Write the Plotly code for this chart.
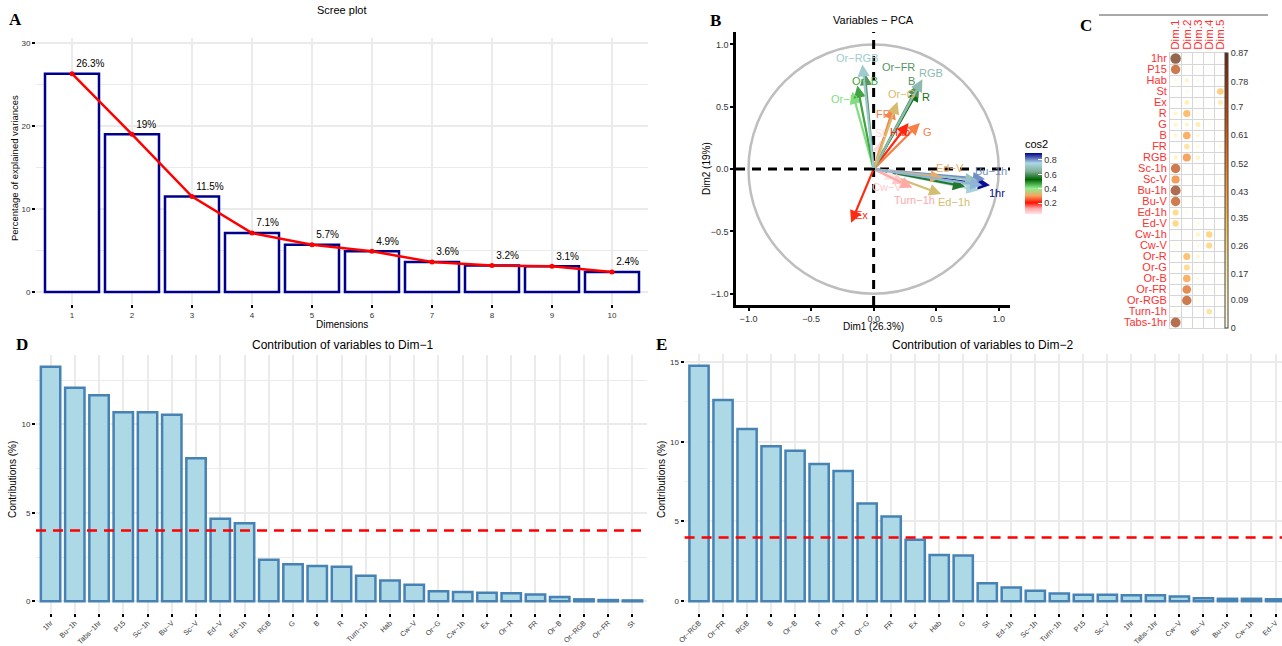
import plotly.graph_objects as go
from plotly.colors import sample_colorscale

W, H = 1282, 646
FONT = "Liberation Sans, Arial, sans-serif"
SERIF = "Liberation Serif, Times New Roman, serif"
MINUS = "\u2212"


def disp(s):
    return s.replace("-", MINUS)


def px(x):
    return x / W


def py(y):
    return 1 - y / H


def dom_x(a, b):
    return [max(0.0, a / W), min(1.0, b / W)]


def dom_y(top, bottom):
    return [1 - bottom / H, 1 - top / H]


# ---------------- data ----------------
# A: scree plot
dims = [1, 2, 3, 4, 5, 6, 7, 8, 9, 10]
eig_pct = [26.3, 19.0, 11.5, 7.1, 5.7, 4.9, 3.6, 3.2, 3.1, 2.4]

# B: variable coordinates on Dim1 / Dim2
pca_vars = ["1hr", "P15", "Hab", "St", "Ex", "R", "G", "B", "FR", "RGB", "Sc-1h", "Sc-V",
            "Bu-1h", "Bu-V", "Ed-1h", "Ed-V", "Cw-1h", "Cw-V", "Or-R", "Or-G", "Or-B",
            "Or-FR", "Or-RGB", "Turn-1h", "Tabs-1hr"]
coord_dim1 = [0.93, 0.84, 0.28, 0.06, -0.18, 0.36, 0.37, 0.36, 0.16, 0.39, 0.84, 0.73,
              0.89, 0.83, 0.54, 0.55, 0.19, 0.25, -0.17, 0.19, -0.13, -0.07, -0.09, 0.31, 0.87]
coord_dim2 = [-0.13, -0.14, 0.37, 0.23, -0.43, 0.64, 0.37, 0.68, 0.50, 0.72, -0.17, -0.14,
              -0.08, -0.09, -0.20, -0.07, -0.08, -0.12, 0.62, 0.54, 0.67, 0.77, 0.84, -0.15, -0.13]

# C: cos2 of variables on Dim.1 .. Dim.5
c_dims = ["Dim.1", "Dim.2", "Dim.3", "Dim.4", "Dim.5"]
c_rows = pca_vars
cos2_d1 = [0.87, 0.70, 0.08, 0.00, 0.03, 0.13, 0.14, 0.13, 0.03, 0.15, 0.70, 0.53, 0.79,
           0.69, 0.29, 0.31, 0.04, 0.06, 0.03, 0.04, 0.02, 0.00, 0.01, 0.10, 0.77]
cos2_d2 = [0.02, 0.02, 0.14, 0.05, 0.18, 0.41, 0.14, 0.46, 0.25, 0.51, 0.03, 0.02, 0.01,
           0.01, 0.04, 0.01, 0.00, 0.01, 0.39, 0.29, 0.45, 0.60, 0.70, 0.02, 0.02]
cos2_d3 = [0.03, 0.03, 0.06, 0.02, 0.01, 0.05, 0.20, 0.10, 0.10, 0.15, 0.01, 0.02, 0.02,
           0.04, 0.06, 0.07, 0.15, 0.08, 0.12, 0.04, 0.08, 0.05, 0.07, 0.01, 0.01]
cos2_d4 = [0.00, 0.00, 0.01, 0.01, 0.01, 0.01, 0.06, 0.01, 0.01, 0.01, 0.01, 0.00, 0.01,
           0.01, 0.01, 0.00, 0.32, 0.30, 0.04, 0.01, 0.02, 0.05, 0.01, 0.25, 0.01]
cos2_d5 = [0.00, 0.01, 0.05, 0.35, 0.20, 0.01, 0.01, 0.01, 0.08, 0.01, 0.01, 0.06, 0.03,
           0.01, 0.01, 0.01, 0.01, 0.01, 0.01, 0.01, 0.01, 0.00, 0.00, 0.01, 0.01]
c_ticks = [0, 0.09, 0.17, 0.26, 0.35, 0.43, 0.52, 0.61, 0.7, 0.78, 0.87]

# D: contributions to Dim-1
d_vars = ["1hr", "Bu-1h", "Tabs-1hr", "P15", "Sc-1h", "Bu-V", "Sc-V", "Ed-V", "Ed-1h", "RGB",
          "G", "B", "R", "Turn-1h", "Hab", "Cw-V", "Or-G", "Cw-1h", "Ex", "Or-R", "FR", "Or-B",
          "Or-RGB", "Or-FR", "St"]
d_vals = [13.26, 12.07, 11.65, 10.68, 10.68, 10.55, 8.08, 4.67, 4.41, 2.35, 2.09, 2.00, 1.96,
          1.45, 1.17, 0.93, 0.57, 0.53, 0.49, 0.45, 0.38, 0.24, 0.11, 0.07, 0.05]

# E: contributions to Dim-2
e_vars = ["Or-RGB", "Or-FR", "RGB", "B", "Or-B", "R", "Or-R", "Or-G", "FR", "Ex", "Hab", "G",
          "St", "Ed-1h", "Sc-1h", "Turn-1h", "P15", "Sc-V", "1hr", "Tabs-1hr", "Cw-V", "Bu-V",
          "Bu-1h", "Cw-1h", "Ed-V"]
e_vals = [14.76, 12.61, 10.80, 9.72, 9.43, 8.60, 8.17, 6.12, 5.31, 3.86, 2.90, 2.86, 1.13,
          0.86, 0.66, 0.49, 0.41, 0.41, 0.37, 0.37, 0.29, 0.18, 0.15, 0.15, 0.12]

expected_contrib = 100 / len(d_vars)

# label placement (layout) for the variable arrows that carry a visible label
b_label_pos = {
    "Or-RGB": (-0.13, 0.895), "Or-FR": (0.20, 0.82), "Or-B": (-0.07, 0.71),
    "Or-R": (-0.23, 0.56), "RGB": (0.46, 0.775), "B": (0.30, 0.71), "R": (0.42, 0.58),
    "Or-G": (0.22, 0.60), "FR": (0.08, 0.44), "St": (0.05, 0.29), "Hab": (0.21, 0.30),
    "G": (0.43, 0.30), "Ed-V": (0.61, 0.01), "Bu-1h": (0.94, -0.016),
    "1hr": (0.99, -0.195), "Cw-V": (0.11, -0.14), "Turn-1h": (0.33, -0.25),
    "Ed-1h": (0.64, -0.26), "Ex": (-0.10, -0.37),
}

# ---------------- styling ----------------
GRID = "#EBEBEB"
cos2_scale = [[0.0, "#FFE4E4"], [0.09, "#FFA8A8"], [0.184, "#FF1000"], [0.30, "#F4A460"],
              [0.42, "#90EE90"], [0.565, "#006400"], [0.70, "#7FAF97"], [0.835, "#ADD8E6"],
              [1.0, "#00008B"]]
CMIN, CMAX = 0.044, 0.89

fig = go.Figure()

# ---------------- Panel A ----------------
fig.add_trace(go.Bar(
    x=dims, y=eig_pct, width=0.9, xaxis="x", yaxis="y", showlegend=False,
    marker=dict(color="white", line=dict(color="#00008B", width=2.5)), hoverinfo="skip"))
fig.add_trace(go.Scatter(
    x=dims, y=eig_pct, mode="lines+markers+text", xaxis="x", yaxis="y", showlegend=False,
    line=dict(color="red", width=2.5), marker=dict(color="red", size=5),
    text=[f"{v:g}%" for v in eig_pct], textposition="top right",
    textfont=dict(family=FONT, size=10, color="black"), cliponaxis=False))

# ---------------- Panel B ----------------
cos2_b = [a * a + b * b for a, b in zip(coord_dim1, coord_dim2)]
b_colors = [sample_colorscale(cos2_scale, [min(1, max(0, (c - CMIN) / (CMAX - CMIN)))])[0]
            for c in cos2_b]
fig.add_trace(go.Scatter(
    x=coord_dim1, y=coord_dim2, mode="markers", xaxis="x2", yaxis="y2", showlegend=False,
    marker=dict(color=cos2_b, coloraxis="coloraxis", size=2, opacity=0), hoverinfo="skip"))

# ---------------- Panel C ----------------
c_matrix = [cos2_d1, cos2_d2, cos2_d3, cos2_d4, cos2_d5]
cx, cy, cv, cs = [], [], [], []
for j, col in enumerate(c_matrix):
    for i, v in enumerate(col):
        if v <= 0:
            continue
        cx.append(j + 1)
        cy.append(i + 1)
        cv.append(v)
        cs.append(max(1.8, 10.5 * (v / max(c_ticks)) ** 0.5))
fig.add_trace(go.Scatter(
    x=cx, y=cy, mode="markers", xaxis="x3", yaxis="y3", showlegend=False,
    marker=dict(color=cv, coloraxis="coloraxis2", size=cs, line=dict(width=0)),
    hoverinfo="skip"))

# ---------------- Panel D ----------------
fig.add_trace(go.Bar(
    x=[disp(v) for v in d_vars], y=d_vals, width=0.8, xaxis="x4", yaxis="y4", showlegend=False,
    marker=dict(color="#ADD8E6", line=dict(color="#4682B4", width=2.5)), hoverinfo="skip"))

# ---------------- Panel E ----------------
fig.add_trace(go.Bar(
    x=[disp(v) for v in e_vars], y=e_vals, width=0.8, xaxis="x5", yaxis="y5", showlegend=False,
    marker=dict(color="#ADD8E6", line=dict(color="#4682B4", width=2.5)), hoverinfo="skip"))

tickfont = dict(family=FONT, size=8, color="#333333")
cat_tickfont = dict(family=FONT, size=7.2, color="#333333")
ggtick = dict(ticks="outside", ticklen=3, tickwidth=2, tickcolor="black", automargin=False)

layout = dict(
    width=W, height=H, margin=dict(l=0, r=0, t=0, b=0, autoexpand=False), autosize=False,
    paper_bgcolor="white", plot_bgcolor="white", showlegend=False,
    font=dict(family=FONT, size=10, color="black"),
    # A
    xaxis=dict(domain=dom_x(36, 648), range=[0.4, 10.6], tickvals=dims, anchor="y",
               showgrid=True, gridcolor=GRID, gridwidth=2, zeroline=False, tickfont=tickfont,
               **ggtick),
    yaxis=dict(domain=dom_y(38, 304), range=[-1.45, 30.6], tickvals=[0, 10, 20, 30], anchor="x",
               showgrid=True, gridcolor=GRID, gridwidth=2, zeroline=False, tickfont=tickfont,
               minor=dict(tickvals=[5, 15, 25], showgrid=True, gridcolor=GRID, gridwidth=1),
               **ggtick),
    # B
    xaxis2=dict(domain=dom_x(736, 1010), range=[-1.1, 1.09], anchor="y2", automargin=False,
                tickvals=[-1, -0.5, 0, 0.5, 1],
                ticktext=[MINUS + "1.0", MINUS + "0.5", "0.0", "0.5", "1.0"],
                showgrid=False, zeroline=False, showline=True, linecolor="black", linewidth=2.5,
                ticks="outside", ticklen=3, tickwidth=1.5, tickcolor="black",
                tickfont=dict(family=FONT, size=9, color="#333333")),
    yaxis2=dict(domain=dom_y(32, 305), range=[-1.09, 1.1], anchor="x2", automargin=False,
                tickvals=[-1, -0.5, 0, 0.5, 1],
                ticktext=[MINUS + "1.0", MINUS + "0.5", "0.0", "0.5", "1.0"],
                showgrid=False, zeroline=False, showline=True, linecolor="black", linewidth=2.5,
                ticks="outside", ticklen=3, tickwidth=1.5, tickcolor="black",
                tickfont=dict(family=FONT, size=9, color="#333333")),
    # C
    xaxis3=dict(domain=dom_x(1170, 1226), range=[0.5, 5.5], anchor="y3", side="top",
                automargin=False,
                tickvals=[1, 2, 3, 4, 5], ticktext=c_dims, tickangle=-90, ticks="",
                tickfont=dict(family=FONT, size=11.5, color="#FF3030"),
                showgrid=False, zeroline=False, showline=True, mirror=True,
                linecolor="#D6D6D6", linewidth=1,
                minor=dict(tickvals=[1.5, 2.5, 3.5, 4.5], showgrid=True,
                           gridcolor="#D6D6D6", gridwidth=1)),
    yaxis3=dict(domain=dom_y(53, 328), range=[25.5, 0.5], anchor="x3", automargin=False,
                tickvals=list(range(1, len(c_rows) + 1)), ticktext=c_rows, ticks="",
                tickfont=dict(family=FONT, size=11, color="#FF3030"),
                showgrid=False, zeroline=False, showline=True, mirror=True,
                linecolor="#D6D6D6", linewidth=1,
                minor=dict(tickvals=[k + 0.5 for k in range(1, len(c_rows))], showgrid=True,
                           gridcolor="#D6D6D6", gridwidth=1)),
    # D
    xaxis4=dict(domain=dom_x(36, 647), range=[-0.6, 24.6], anchor="y4", type="category",
                tickangle=-45, showgrid=True, gridcolor=GRID, gridwidth=2, zeroline=False,
                tickfont=cat_tickfont, ticklabelstandoff=-1, **ggtick),
    yaxis4=dict(domain=dom_y(355, 613), range=[-0.66, 13.92], anchor="x4",
                tickvals=[0, 5, 10], showgrid=True, gridcolor=GRID, gridwidth=2, zeroline=False,
                tickfont=tickfont,
                minor=dict(tickvals=[2.5, 7.5, 12.5], showgrid=True, gridcolor=GRID, gridwidth=1),
                **ggtick),
    # E
    xaxis5=dict(domain=dom_x(684.6, 1282), range=[-0.6, 24.27], anchor="y5", type="category",
                tickangle=-45, showgrid=True, gridcolor=GRID, gridwidth=2, zeroline=False,
                tickfont=cat_tickfont, ticklabelstandoff=-1, **ggtick),
    yaxis5=dict(domain=dom_y(354, 613), range=[-0.74, 15.5], anchor="x5",
                tickvals=[0, 5, 10, 15], showgrid=True, gridcolor=GRID, gridwidth=2,
                zeroline=False, tickfont=tickfont,
                minor=dict(tickvals=[2.5, 7.5, 12.5], showgrid=True, gridcolor=GRID, gridwidth=1),
                **ggtick),
    coloraxis=dict(
        colorscale=cos2_scale, cmin=CMIN, cmax=CMAX,
        colorbar=dict(x=px(1025), xanchor="left", y=py(175.5), yanchor="middle",
                      lenmode="pixels", len=78, thicknessmode="pixels", thickness=17,
                      xpad=0, ypad=0, outlinewidth=0,
                      title=dict(text="cos2", side="top", font=dict(family=FONT, size=11)),
                      tickvals=[0.2, 0.4, 0.6, 0.8], ticks="inside", tickcolor="white",
                      ticklen=4, tickfont=dict(family=FONT, size=9, color="#333333"))),
    coloraxis2=dict(
        colorscale="YlOrBr", cmin=0, cmax=max(c_ticks),
        colorbar=dict(x=px(1225), xanchor="left", y=py(190.5), yanchor="middle",
                      lenmode="pixels", len=275, thicknessmode="pixels", thickness=3,
                      xpad=0, ypad=0, outlinewidth=1, outlinecolor="#444444",
                      tickvals=c_ticks, ticktext=[f"{t:g}" for t in c_ticks], ticks="",
                      tickfont=dict(family=FONT, size=9, color="#333333"))),
)
fig.update_layout(**layout)

shapes = []
# B: correlation circle and dashed axes
shapes.append(dict(type="circle", xref="x2", yref="y2", x0=-1, y0=-1, x1=1, y1=1,
                   line=dict(color="#BEBEBE", width=2.5), layer="below"))
shapes.append(dict(type="line", xref="x2", yref="y2 domain", x0=0, x1=0, y0=0, y1=1,
                   line=dict(color="black", width=3, dash="9px,7px")))
shapes.append(dict(type="line", xref="x2 domain", yref="y2", x0=0, x1=1, y0=0, y1=0,
                   line=dict(color="black", width=3, dash="9px,7px")))
# D / E: expected average contribution
for ax in ("4", "5"):
    shapes.append(dict(type="line", xref=f"x{ax} domain", yref=f"y{ax}", x0=0, x1=1,
                       y0=expected_contrib, y1=expected_contrib,
                       line=dict(color="red", width=2.5, dash="10px,7px")))
# C: top rule
shapes.append(dict(type="line", xref="paper", yref="paper", x0=px(1099), x1=px(1268),
                   y0=py(15), y1=py(15), line=dict(color="#8C8C8C", width=1.5)))
fig.update_layout(shapes=shapes)

ann = []
# arrows in B
for name, x, y, col in zip(pca_vars, coord_dim1, coord_dim2, b_colors):
    ann.append(dict(x=x, y=y, ax=0, ay=0, xref="x2", yref="y2", axref="x2", ayref="y2",
                    text="", showarrow=True, arrowhead=2, arrowsize=1.1, arrowwidth=2.2,
                    arrowcolor=col, standoff=0, startstandoff=0))
for name, col in zip(pca_vars, b_colors):
    if name in b_label_pos:
        lx, ly = b_label_pos[name]
        ann.append(dict(x=lx, y=ly, xref="x2", yref="y2", text=disp(name), showarrow=False,
                        font=dict(family=FONT, size=11, color=col)))


# titles & axis titles
def t(text, x, y, size=11, angle=0, family=FONT, color="black"):
    ann.append(dict(x=px(x), y=py(y), xref="paper", yref="paper", text=text,
                    showarrow=False, textangle=angle, xanchor="center", yanchor="middle",
                    font=dict(family=family, size=size, color=color)))


t("Scree plot", 342, 10, 11)
t("Dimensions", 342, 324, 10)
t("Percentage of explained variances", 14, 168, 9.5, angle=-90)
t("Variables " + MINUS + " PCA", 873, 20, 11)
t("Dim1 (26.3%)", 873, 326, 10)
t("Dim2 (19%)", 706, 169, 10, angle=-90)
t("Contribution of variables to Dim" + MINUS + "1", 342, 345, 12)
t("Contributions (%)", 12, 480, 10, angle=-90)
t("Contribution of variables to Dim" + MINUS + "2", 982, 345, 12)
t("Contributions (%)", 661, 480, 10, angle=-90)
for letter, x, y in [("A", 15, 19), ("B", 715, 20), ("C", 1086, 25), ("D", 22, 345),
                     ("E", 661, 345)]:
    t("<b>" + letter + "</b>", x, y, 17, family=SERIF)

fig.update_layout(annotations=ann)

fig.write_html("out.html", config={"displayModeBar": False},
               post_script="document.body.style.margin='0';document.body.style.overflow='hidden';")
